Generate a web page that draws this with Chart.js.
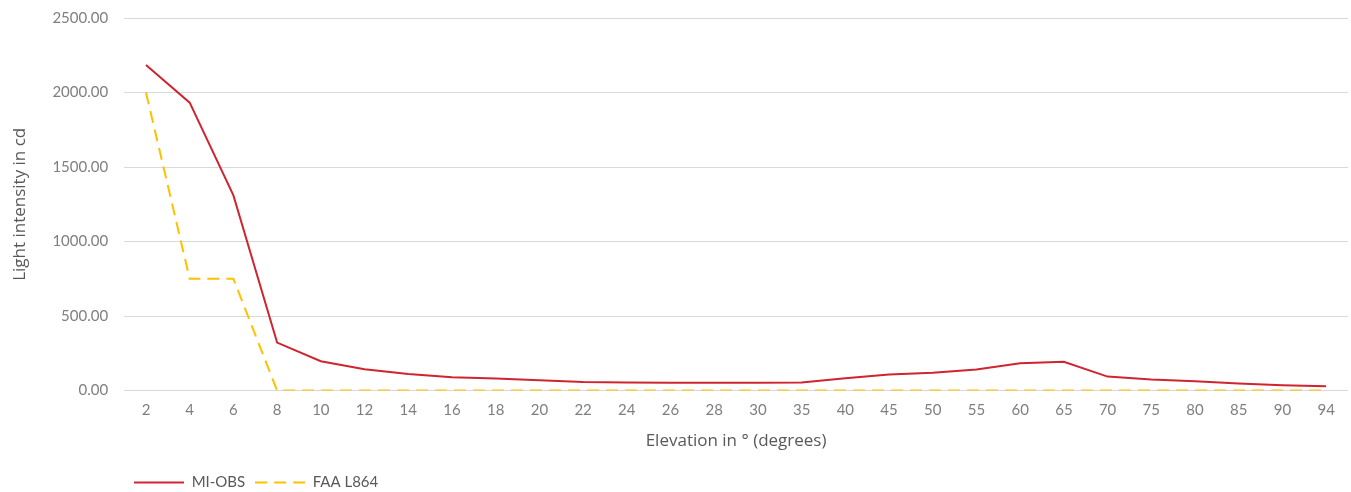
<!DOCTYPE html>
<html lang="en">
<head>
    <meta charset="UTF-8">
    <title>Light intensity</title>
    <script src="https://cdn.jsdelivr.net/npm/chart.js"></script>
    <style>
        html, body { margin: 0; padding: 0; background: #fff; }
        #wrap { width: 1351px; height: 492px; }
    </style>
</head>
<body>
    <div id="wrap">
        <canvas id="lightChart"></canvas>
    </div>

    <script>
        const elevations = ['2', '4', '6', '8', '10', '12', '14', '16', '18', '20', '22', '24', '26', '28',
            '30', '35', '40', '45', '50', '55', '60', '65', '70', '75', '80', '85', '90', '94'];
        const miObs = [2184, 1932, 1310, 322, 197, 143, 112, 90, 81, 70, 58, 54, 52, 52,
            52, 54, 83, 108, 119, 141, 184, 193, 94, 74, 63, 47, 36, 29];
        const faaL864 = [2000, 750, 750, 0, 0, 0, 0, 0, 0, 0, 0, 0, 0, 0,
            0, 0, 0, 0, 0, 0, 0, 0, 0, 0, 0, 0, 0, 0];

        const tickFont = 'Lato, "Open Sans", sans-serif';
        const titleFont = '"Open Sans", sans-serif';
        const gray = '#7f7f7f';

        // small line sample used as the legend symbol (keeps the dash visible)
        function legendLine(color, dash) {
            const c = document.createElement('canvas');
            c.width = 50;
            c.height = 4;
            const g = c.getContext('2d');
            g.strokeStyle = color;
            g.lineWidth = 2;
            g.setLineDash(dash);
            g.beginPath();
            g.moveTo(0, 2);
            g.lineTo(50, 2);
            g.stroke();
            return c;
        }

        const ctx = document.getElementById('lightChart').getContext('2d');
        new Chart(ctx, {
            type: 'line',
            data: {
                labels: elevations,
                datasets: [
                    {
                        label: 'MI-OBS',
                        data: miObs,
                        borderColor: '#cf2530',
                        backgroundColor: '#cf2530',
                        borderWidth: 2,
                        pointRadius: 0,
                        tension: 0
                    },
                    {
                        label: 'FAA L864',
                        data: faaL864,
                        borderColor: '#ffc000',
                        backgroundColor: '#ffc000',
                        borderWidth: 2,
                        borderDash: [12, 7],
                        pointRadius: 0,
                        tension: 0
                    }
                ]
            },
            options: {
                responsive: true,
                maintainAspectRatio: false,
                animation: false,
                layout: { padding: { left: 6, right: 3, top: 0, bottom: -8 } },
                plugins: {
                    tooltip: { enabled: false },
                    legend: {
                        position: 'bottom',
                        align: 'start',
                        fullSize: false,
                        labels: {
                            usePointStyle: true,
                            pointStyleWidth: 50,
                            color: '#595959',
                            font: { family: tickFont, size: 15 },
                            padding: 10,
                            generateLabels: chart => Chart.defaults.plugins.legend.labels.generateLabels(chart)
                                .map(item => {
                                    const ds = chart.data.datasets[item.datasetIndex];
                                    item.pointStyle = legendLine(ds.borderColor, ds.borderDash || []);
                                    return item;
                                })
                        }
                    }
                },
                scales: {
                    x: {
                        offset: true,
                        grid: { display: false, drawTicks: false },
                        border: { display: false },
                        ticks: { color: gray, font: { family: tickFont, size: 15 }, padding: 11, maxRotation: 0 },
                        title: {
                            display: true,
                            text: 'Elevation in ° (degrees)',
                            color: '#595959',
                            font: { family: titleFont, size: 17 },
                            padding: { top: 0, bottom: 14 }
                        }
                    },
                    y: {
                        min: 0,
                        max: 2500,
                        ticks: {
                            stepSize: 500,
                            color: gray,
                            font: { family: tickFont, size: 15 },
                            padding: 9,
                            callback: v => Number(v).toFixed(2)
                        },
                        grid: { color: '#d9d9d9', drawTicks: true, tickLength: 7, tickColor: 'rgba(0,0,0,0)' },
                        border: { display: false },
                        title: {
                            display: true,
                            text: 'Light intensity in cd',
                            color: '#595959',
                            font: { family: titleFont, size: 17 },
                            padding: { bottom: 13 }
                        }
                    }
                }
            }
        });
    </script>
</body>
</html>
